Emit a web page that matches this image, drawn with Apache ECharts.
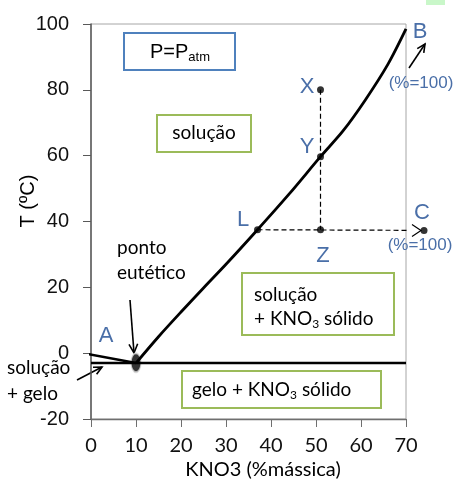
<!DOCTYPE html>
<html><head><meta charset="utf-8">
<script src="https://cdn.jsdelivr.net/npm/echarts@6.0.0/dist/echarts.min.js"></script>
<style>html,body{margin:0;padding:0;background:#fff}#c{width:460px;height:490px}</style>
</head><body><div id="c"></div>
<script>
// ---- data ----
const xTicks = [0, 10, 20, 30, 40, 50, 60, 70];
const yTicks = [-20, 0, 20, 40, 60, 80, 100];
const liquidusX = [10, 15, 20, 25, 30, 37, 44, 51, 56, 61, 66, 70];
const liquidusY = [-3, 5, 12.5, 19.8, 27, 37.5, 48.3, 59.7, 67.5, 77, 87.8, 98.5];
const iceLineX = [-1.7, 10];
const iceLineY = [0, -3];
const eutecticLineX = [0, 70];
const eutecticLineY = [-3, -3];
const vertDashX = [51, 51];
const vertDashY = [80, 37.5];
const horzDashX = [37, 74];
const horzDashY = [37.5, 37.3];
const pointNames = ['X', 'Y', 'L', 'Z', 'C'];
const pointX = [51, 51, 37, 51, 74];
const pointY = [80, 59.7, 37.5, 37.5, 37.3];
const eutecticPoint = [10, -2.9];

const zip = (a, b) => a.map((v, i) => [v, b[i]]);
const SANS = 'Liberation Sans';
const CAL = 'Lato';
const BLUE = '#4a6fa8';
const GREEN = '#9bbb59';

const chart = echarts.init(document.getElementById('c'), null, {renderer: 'canvas'});

function arrow(x1, y1, x2, y2, len, color, w) {
  const a = Math.atan2(y2 - y1, x2 - x1), s = 0.45;
  return [
    {type: 'line', shape: {x1, y1, x2, y2}, style: {stroke: color, lineWidth: w}},
    {type: 'polyline', shape: {points: [
      [x2 - len * Math.cos(a - s), y2 - len * Math.sin(a - s)], [x2, y2],
      [x2 - len * Math.cos(a + s), y2 - len * Math.sin(a + s)]]},
     style: {stroke: color, lineWidth: w, fill: null}}
  ];
}
function box(x, y, w, h, color) {
  return {type: 'rect', shape: {x, y, width: w, height: h}, style: {fill: '#fff', stroke: color, lineWidth: 2}};
}
function txt(x, y, text, font, size, color, align, rich) {
  return {type: 'text', x, y, style: {text, fontFamily: font, fontSize: size, fill: color || '#000',
    align: align || 'center', verticalAlign: 'middle', rich: rich}};
}
const subRich = (font, size) => ({
  a: {fontFamily: font, fontSize: size, fill: '#000'},
  s: {fontFamily: font, fontSize: Math.round(size * 0.65), fill: '#000', padding: [10, 0, 0, 0]}
});

chart.setOption({
  animation: false,
  grid: {left: 91, right: 54, top: 24, bottom: 71, show: true, borderColor: '#a6a6a6', borderWidth: 1, outerBoundsMode: 'none'},
  xAxis: {type: 'value', min: xTicks[0], max: xTicks[xTicks.length - 1], interval: 10,
    axisLine: {show: true, onZero: false, lineStyle: {color: '#6f6f6f', width: 1.3}},
    axisTick: {show: true, length: 8, lineStyle: {color: '#6f6f6f'}},
    splitLine: {show: false},
    axisLabel: {fontFamily: CAL, fontSize: 20, color: '#111', margin: 17}},
  yAxis: {type: 'value', min: yTicks[0], max: yTicks[yTicks.length - 1], interval: 20,
    axisLine: {show: true, onZero: false, lineStyle: {color: '#595959', width: 1.5}},
    axisTick: {show: true, length: 8, lineStyle: {color: '#595959'}},
    splitLine: {show: false},
    axisLabel: {fontFamily: SANS, fontSize: 20, color: '#111', margin: 22}},
  series: [
    {type: 'line', data: zip(liquidusX, liquidusY), smooth: 0.3, symbol: 'none', clip: false,
     lineStyle: {color: '#000', width: 2.8}},
    {type: 'line', data: zip(iceLineX, iceLineY), symbol: 'none', clip: false,
     lineStyle: {color: '#000', width: 2.5}},
    {type: 'line', data: zip(eutecticLineX, eutecticLineY), symbol: 'none', clip: false,
     lineStyle: {color: '#000', width: 2.5}},
    {type: 'line', data: zip(vertDashX, vertDashY), symbol: 'none', clip: false,
     lineStyle: {color: '#000', width: 1.2, type: [5, 3]}},
    {type: 'line', data: zip(horzDashX, horzDashY), symbol: 'none', clip: false,
     lineStyle: {color: '#000', width: 1.2, type: [5, 3]}},
    {type: 'scatter', data: zip(pointX, pointY), symbol: 'circle', symbolSize: 7, clip: false,
     itemStyle: {color: '#000'}},
    {type: 'scatter', data: [eutecticPoint], symbol: 'circle', symbolSize: [10, 19], clip: false,
     itemStyle: {color: '#000', borderColor: '#d8d8d8', borderWidth: 1.5}}
  ]
});

const c = chart.convertToPixel({gridIndex: 0}, [pointX[4], pointY[4]]);
const g = [
  {type: 'rect', shape: {x: 426, y: 0, width: 19, height: 5}, style: {fill: '#c9f7c9'}},
  box(124, 33, 111, 37, '#4f81bd'),
  txt(180, 52, '{a|P=P}{s|atm}', SANS, 20, '#000', 'center', subRich(SANS, 20)),
  box(157, 115, 94, 37, GREEN),
  txt(204, 133, 'solução', CAL, 19),
  box(242, 273, 152, 62, GREEN),
  txt(254, 295, 'solução', CAL, 19, '#000', 'left'),
  txt(254, 319, '{a|+ KNO}{s|3}{a| sólido}', CAL, 19, '#000', 'left', subRich(CAL, 19)),
  box(182, 371, 199, 37, GREEN),
  txt(192, 390, '{a|gelo + KNO}{s|3}{a| sólido}', CAL, 19, '#000', 'left', subRich(CAL, 19)),
  txt(117, 248, 'ponto', CAL, 19, '#000', 'left'),
  txt(117, 273, 'eutético', CAL, 19, '#000', 'left'),
  txt(7, 368, 'solução', CAL, 19, '#000', 'left'),
  txt(7, 394, '+ gelo', CAL, 19, '#000', 'left'),
  txt(106, 336, 'A', SANS, 22, BLUE),
  txt(307, 87, 'X', SANS, 22, BLUE),
  txt(307, 147, 'Y', SANS, 22, BLUE),
  txt(243, 220, 'L', SANS, 22, BLUE),
  txt(323, 256, 'Z', SANS, 22, BLUE),
  txt(422, 213, 'C', SANS, 22, BLUE),
  txt(420, 245, '(%=100)', SANS, 17, BLUE),
  txt(420, 32, 'B', SANS, 22, BLUE),
  txt(421, 83, '(%=100)', SANS, 17, BLUE),
  {type: 'text', x: 28, y: 201, rotation: Math.PI / 2,
   style: {text: 'T (ºC)', fontFamily: SANS, fontSize: 20, fill: '#000', align: 'center', verticalAlign: 'middle'}},
  txt(263, 470, 'KNO3 (%mássica)', CAL, 20),
  ...arrow(409, 68, 425, 44, 9, '#000', 1.6),
  ...arrow(130, 300, 134, 353, 10, '#000', 1.6),
  ...arrow(77, 380, 102, 367, 9, '#000', 1.6),
  {type: 'polyline', shape: {points: [[c[0] - 12, c[1] - 6], [c[0] - 3, c[1]], [c[0] - 12, c[1] + 6]]},
   style: {stroke: '#000', lineWidth: 1.2, fill: null}}
];
chart.setOption({graphic: g});
</script></body></html>
